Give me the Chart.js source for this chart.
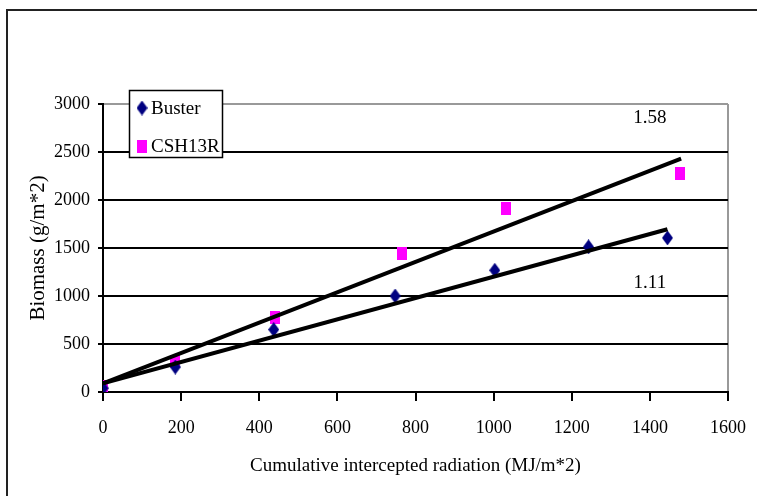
<!DOCTYPE html>
<html lang="en">
<head>
    <meta charset="UTF-8">
    <title>Biomass vs cumulative intercepted radiation</title>
    <style>
        html, body { margin: 0; padding: 0; background: #fff; }
        .wrap { position: relative; width: 757px; height: 496px; overflow: hidden; }
    </style>
</head>
<body>
    <div class="wrap">
        <canvas id="myChart" width="757" height="496"></canvas>
    </div>
    <script src="https://cdn.jsdelivr.net/npm/chart.js@4.4.1/dist/chart.umd.min.js"></script>
    <script>
        // values
        var seriesNames = ['Buster', 'CSH13R'];
        var busterX = [0, 185, 437, 748, 1003, 1243, 1445];
        var busterY = [40, 260, 650, 1000, 1268, 1512, 1605];
        var cshX = [0, 185, 440, 766, 1032, 1478];
        var cshY = [60, 320, 775, 1440, 1910, 2275];

        // fitted lines, end points as drawn
        var busterFitX = [0, 1445];
        var busterFitY = [90, 1695];
        var cshFitX = [0, 1480];
        var cshFitY = [90, 2430];

        // slope labels next to the lines
        var slopeText = ['1.58', '1.11'];
        var slopeX = [1400, 1400];
        var slopeY = [2850, 1135];

        var xTicks = [0, 200, 400, 600, 800, 1000, 1200, 1400, 1600];
        var yTicks = [0, 500, 1000, 1500, 2000, 2500, 3000];

        var FONT = '"Liberation Serif", "Times New Roman", serif';

        function pairs(xs, ys) {
            var out = [];
            for (var i = 0; i < xs.length; i++) {
                out.push({ x: xs[i], y: ys[i] });
            }
            return out;
        }

        function plain(v) { return String(v); }

        function makeMarker(kind, w, h, color) {
            var c = document.createElement('canvas');
            c.width = w;
            c.height = h;
            var g = c.getContext('2d');
            g.fillStyle = color;
            if (kind === 'diamond') {
                g.beginPath();
                g.moveTo(w / 2, 0);
                g.lineTo(w, h / 2);
                g.lineTo(w / 2, h);
                g.lineTo(0, h / 2);
                g.closePath();
                g.fill();
            } else {
                g.fillRect(0, 0, w, h);
            }
            return c;
        }

        var diamond = makeMarker('diamond', 11, 15, '#000080');
        var square = makeMarker('square', 10, 13, '#ff00ff');

        var frame = {
            id: 'frame',
            beforeDraw: function (chart) {
                var ctx = chart.ctx;
                ctx.save();
                ctx.strokeStyle = '#222';
                ctx.lineWidth = 2;
                ctx.beginPath();
                ctx.moveTo(7, 496);
                ctx.lineTo(7, 10);
                ctx.lineTo(757, 10);
                ctx.stroke();
                ctx.restore();
            }
        };

        var extras = {
            id: 'extras',
            afterDraw: function (chart) {
                var ctx = chart.ctx;
                var xs = chart.scales.x;
                var ys = chart.scales.y;
                ctx.save();
                ctx.font = '19px ' + FONT;
                ctx.fillStyle = '#000';
                ctx.textAlign = 'center';
                ctx.textBaseline = 'middle';
                for (var i = 0; i < slopeText.length; i++) {
                    ctx.fillText(slopeText[i], xs.getPixelForValue(slopeX[i]), ys.getPixelForValue(slopeY[i]));
                }

                // legend box
                ctx.fillStyle = '#fff';
                ctx.fillRect(129, 90, 94, 68);
                ctx.strokeStyle = '#000';
                ctx.lineWidth = 1.5;
                ctx.strokeRect(129.5, 90.5, 93, 67);
                var marks = [diamond, square];
                var rows = [108, 146];
                ctx.textAlign = 'left';
                ctx.fillStyle = '#000';
                for (var j = 0; j < seriesNames.length; j++) {
                    var m = marks[j];
                    ctx.drawImage(m, 142 - m.width / 2, rows[j] - m.height / 2);
                    ctx.fillText(seriesNames[j], 151, rows[j] + 1);
                }
                ctx.restore();
            }
        };

        function createChart() {
            var ctx = document.getElementById('myChart').getContext('2d');
            new Chart(ctx, {
                type: 'scatter',
                data: {
                    datasets: [
                        {
                            label: seriesNames[0],
                            data: pairs(busterX, busterY),
                            pointStyle: diamond,
                            order: 2
                        },
                        {
                            label: seriesNames[1],
                            data: pairs(cshX, cshY),
                            pointStyle: square,
                            order: 2
                        },
                        {
                            type: 'line',
                            data: pairs(busterFitX, busterFitY),
                            borderColor: '#000',
                            borderWidth: 4,
                            pointRadius: 0,
                            fill: false,
                            order: 1
                        },
                        {
                            type: 'line',
                            data: pairs(cshFitX, cshFitY),
                            borderColor: '#000',
                            borderWidth: 4,
                            pointRadius: 0,
                            fill: false,
                            order: 1
                        }
                    ]
                },
                options: {
                    responsive: false,
                    animation: false,
                    layout: { padding: { left: 0, top: 104, right: 29, bottom: 0 } },
                    plugins: {
                        legend: { display: false },
                        tooltip: { enabled: false }
                    },
                    scales: {
                        x: {
                            type: 'linear',
                            min: 0,
                            max: 1600,
                            afterBuildTicks: function (s) {
                                s.ticks = xTicks.map(function (v) { return { value: v }; });
                            },
                            afterFit: function (s) {
                                s.height = 104;
                                s.paddingLeft = 0;
                                s.paddingRight = 0;
                            },
                            border: { color: '#000', width: 2 },
                            grid: {
                                color: function (c) { return c.tick && c.tick.value === 1600 ? '#999' : 'rgba(0,0,0,0)'; },
                                lineWidth: 2,
                                tickColor: '#000',
                                tickLength: 9,
                                drawTicks: true
                            },
                            ticks: {
                                color: '#000',
                                padding: 16,
                                maxRotation: 0,
                                callback: plain,
                                font: { family: FONT, size: 18 }
                            },
                            title: {
                                display: true,
                                text: 'Cumulative intercepted radiation (MJ/m*2)',
                                color: '#000',
                                font: { family: FONT, size: 19 },
                                padding: { top: 0, bottom: 19 }
                            }
                        },
                        y: {
                            type: 'linear',
                            min: 0,
                            max: 3000,
                            afterBuildTicks: function (s) {
                                s.ticks = yTicks.map(function (v) { return { value: v }; });
                            },
                            afterFit: function (s) { s.width = 103; },
                            border: { color: '#000', width: 2 },
                            grid: {
                                color: function (c) { return c.tick && c.tick.value === 3000 ? '#999' : '#000'; },
                                lineWidth: 2,
                                tickColor: '#000',
                                tickLength: 5
                            },
                            ticks: {
                                color: '#000',
                                padding: 8,
                                callback: plain,
                                font: { family: FONT, size: 18 }
                            },
                            title: {
                                display: true,
                                text: 'Biomass (g/m*2)',
                                color: '#000',
                                font: { family: FONT, size: 21 },
                                padding: { top: 26, bottom: 0 }
                            }
                        }
                    }
                },
                plugins: [frame, extras]
            });
        }
        createChart();
    </script>
</body>
</html>
